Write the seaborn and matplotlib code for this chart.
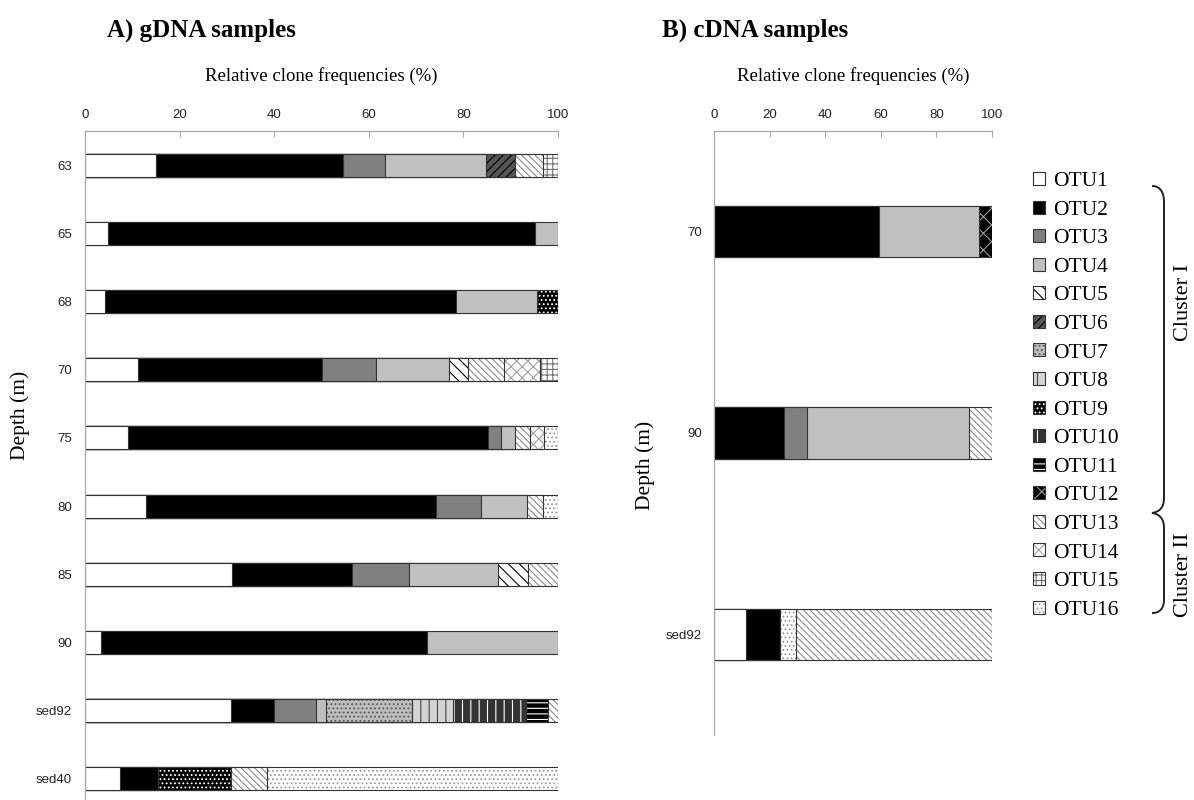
import numpy as np
import pandas as pd
import matplotlib
matplotlib.use("Agg")
import matplotlib.pyplot as plt
import matplotlib.colors as mcolors
from matplotlib.patches import Patch, PathPatch
from matplotlib.path import Path
import seaborn as sns

otus = [f"OTU{i}" for i in range(1, 17)]

gdna_depths = ["63", "65", "68", "70", "75", "80", "85", "90", "sed92", "sed40"]
cdna_depths = ["70", "90", "sed92"]

# relative clone frequencies (%), columns OTU1..OTU16
g63 = [15.0, 39.6, 8.9, 21.3, 0, 6.2, 0, 0, 0, 0, 0, 0, 5.9, 0, 3.1, 0]
g65 = [4.8, 90.4, 0, 4.8, 0, 0, 0, 0, 0, 0, 0, 0, 0, 0, 0, 0]
g68 = [4.2, 74.2, 0, 17.2, 0, 0, 0, 0, 4.4, 0, 0, 0, 0, 0, 0, 0]
g70 = [11.3, 38.9, 11.4, 15.4, 3.9, 0, 0, 0, 0, 0, 0, 0, 7.7, 7.7, 3.7, 0]
g75 = [9.1, 76.0, 2.9, 3.0, 0, 0, 0, 0, 0, 0, 0, 0, 3.0, 3.0, 0, 3.0]
g80 = [12.9, 61.4, 9.5, 9.7, 0, 0, 0, 0, 0, 0, 0, 0, 3.3, 0, 0, 3.2]
g85 = [31.1, 25.3, 12.2, 18.8, 6.2, 0, 0, 0, 0, 0, 0, 0, 6.4, 0, 0, 0]
g90 = [3.3, 69.1, 0, 27.6, 0, 0, 0, 0, 0, 0, 0, 0, 0, 0, 0, 0]
g_sed92 = [30.9, 9.1, 8.8, 2.2, 0, 0, 18.1, 8.7, 0, 15.5, 4.5, 0, 2.2, 0, 0, 0]
g_sed40 = [7.5, 8.0, 0, 0, 0, 0, 0, 0, 15.4, 0, 0, 0, 7.6, 0, 0, 61.5]

c70 = [0, 59.4, 0, 36.0, 0, 0, 0, 0, 0, 0, 0, 4.6, 0, 0, 0, 0]
c90 = [0, 25.2, 8.1, 58.5, 0, 0, 0, 0, 0, 0, 0, 0, 8.2, 0, 0, 0]
c_sed92 = [11.4, 12.3, 0, 0, 0, 0, 0, 0, 0, 0, 0, 0, 70.6, 0, 0, 5.7]

# stacking order (the cDNA chart puts OTU16 before OTU13)
g_order = otus
c_order = otus[:12] + ["OTU16", "OTU13", "OTU14", "OTU15"]

# fill styles per OTU
face = ["white", "black", "#808080", "#c0c0c0", "white", "#555555", "#bdbdbd", "#d4d4d4",
        "black", "#333333", "black", "black", "white", "white", "white", "white"]
hatch = [None, None, None, None, "\\\\\\", "////", "....", "||", "....", "||", "---", "xx",
         "\\\\\\\\\\", "xxx", "+++", "...."]
hatch_col = ["black", "black", "black", "black", "black", "black", "#555555", "#444444",
             "white", "white", "white", "#9a9a9a", "#8a8a8a", "#a0a0a0", "#707070", "#9a9a9a"]

EDGE = "#333333"
SPINE = "#a8a8a8"
SERIF = ["Liberation Serif", "DejaVu Serif"]
W, H = 1194, 800

sns.set_style("white")
plt.rcParams["font.family"] = ["Liberation Sans", "DejaVu Sans"]
plt.rcParams["text.color"] = "black"
plt.rcParams["axes.labelcolor"] = "black"
plt.rcParams["hatch.linewidth"] = 0.8


def stacked_bars(ax, depths, rows, order, width):
    df = pd.DataFrame(rows, index=depths, columns=otus)
    cum = df[order].cumsum(axis=1)
    for otu in reversed(order):
        keep = df[otu] > 0
        if not keep.any():
            continue
        i = otus.index(otu)
        part = pd.DataFrame({"depth": np.array(depths)[keep.values],
                             "cum": cum.loc[keep, otu].values})
        n0 = len(ax.patches)
        sns.barplot(data=part, x="cum", y="depth", order=depths, orient="h",
                    color=face[i], saturation=1, width=width, edgecolor=EDGE,
                    linewidth=0.8, hatch=hatch[i], errorbar=None, ax=ax)
        for p in ax.patches[n0:]:
            p._hatch_color = mcolors.to_rgba(hatch_col[i])


def style_axis(ax, n, ylab_xy, xlab_y, ypad):
    ax.set_xlim(0, 100)
    ax.set_ylim(n - 0.5, -0.5)
    ax.xaxis.tick_top()
    ax.xaxis.set_label_position("top")
    ax.set_xticks(range(0, 101, 20))
    ax.tick_params(axis="x", direction="in", length=4, width=0.8, color=SPINE,
                   labelsize=9.5, labelcolor="#222222", pad=7)
    ax.set_yticks(np.arange(0.5, n, 1), minor=True)
    ax.tick_params(axis="y", which="major", length=0, labelsize=9.5,
                   labelcolor="#222222", pad=ypad)
    ax.tick_params(axis="y", which="minor", direction="out", length=4,
                   width=0.8, color=SPINE)
    for s in ["right", "bottom"]:
        ax.spines[s].set_visible(False)
    for s in ["top", "left"]:
        ax.spines[s].set_color(SPINE)
        ax.spines[s].set_linewidth(0.9)
    ax.set_xlabel("Relative clone frequencies (%)", family=SERIF, fontsize=13.5,
                  va="center")
    ax.xaxis.set_label_coords(0.5, xlab_y)
    ax.set_ylabel("Depth (m)", family=SERIF, fontsize=15.5, va="center")
    ax.yaxis.set_label_coords(*ylab_xy)


fig = plt.figure(figsize=(W / 100, H / 100), dpi=100)

# panel A: axis spans x 85..558 px, y 131..813 px (runs off the bottom)
axA = fig.add_axes([85 / W, 1 - 813 / H, 473 / W, 682 / H])
stacked_bars(axA, gdna_depths,
             [g63, g65, g68, g70, g75, g80, g85, g90, g_sed92, g_sed40],
             g_order, 0.34)
style_axis(axA, len(gdna_depths), ((20 - 85) / 473, (813 - 415) / 682),
           (813 - 76) / 682, 9.5)

# panel B
axB = fig.add_axes([714 / W, 1 - 735 / H, 278 / W, 604 / H])
stacked_bars(axB, cdna_depths, [c70, c90, c_sed92], c_order, 0.255)
style_axis(axB, len(cdna_depths), ((645 - 714) / 278, (735 - 465) / 604),
           (735 - 76) / 604, 8.6)

fig.text(107 / W, 1 - 30 / H, "A) gDNA samples", family=SERIF, fontsize=18,
         weight="bold", ha="left", va="center")
fig.text(662 / W, 1 - 30 / H, "B) cDNA samples", family=SERIF, fontsize=18,
         weight="bold", ha="left", va="center")

# legend
handles = []
for i in range(16):
    p = Patch(facecolor=face[i], edgecolor=EDGE, linewidth=0.8, hatch=hatch[i])
    p._hatch_color = mcolors.to_rgba(hatch_col[i])
    handles.append(p)
fig.legend(handles, otus, loc="upper left", bbox_to_anchor=(1033 / W, 1 - 172 / H),
           frameon=False, prop={"family": SERIF, "size": 15.5},
           handlelength=0.55, handleheight=0.55, handletextpad=0.4,
           labelspacing=0.44, borderaxespad=0, borderpad=0)

# cluster braces
def px(x, y):
    return (x / W, 1 - y / H)

verts = [px(1152, 186), px(1160, 186), px(1164, 192), px(1164, 202),
         px(1164, 498),
         px(1164, 508), px(1159, 512), px(1152, 513),
         px(1159, 514), px(1164, 518), px(1164, 528),
         px(1164, 600),
         px(1164, 608), px(1160, 613), px(1152, 613)]
codes = [Path.MOVETO, Path.CURVE4, Path.CURVE4, Path.CURVE4,
         Path.LINETO,
         Path.CURVE4, Path.CURVE4, Path.CURVE4,
         Path.CURVE4, Path.CURVE4, Path.CURVE4,
         Path.LINETO,
         Path.CURVE4, Path.CURVE4, Path.CURVE4]
fig.add_artist(PathPatch(Path(verts, codes), transform=fig.transFigure,
                         fill=False, lw=1.4, color="#222222"))
fig.text(1183 / W, 1 - 303 / H, "Cluster I", family=SERIF, fontsize=16,
         rotation=90, ha="center", va="center")
fig.text(1183 / W, 1 - 575 / H, "Cluster II", family=SERIF, fontsize=16,
         rotation=90, ha="center", va="center")

fig.savefig("out.png", dpi=100)
